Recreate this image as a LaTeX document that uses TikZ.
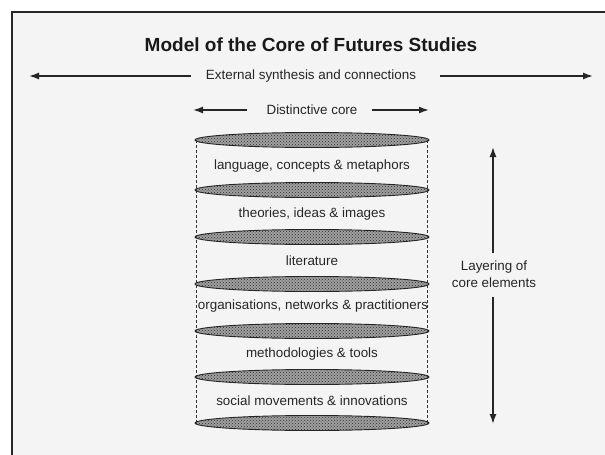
\documentclass[tikz,border=0pt]{standalone}
\usepackage{fontspec}
\setmainfont{Liberation Sans}
\usetikzlibrary{arrows.meta,patterns,shapes.geometric}
\begin{document}
\begin{tikzpicture}[x=1pt,y=-1pt,
  lbl/.style={inner sep=0pt, font=\fontsize{13.4}{17}\selectfont, text=black!85},
  disc/.style={ellipse, minimum width=234pt, minimum height=15pt, inner sep=0pt,
    draw=black!85, line width=0.9pt, preaction={fill=black!38},
    pattern=crosshatch dots, pattern color=black!80},
  arr/.style={line width=1.5pt, draw=black!85, -{Latex[length=10pt,width=7pt]}},
  side/.style={line width=0.8pt, draw=black!80, dash pattern=on 3pt off 2pt}]
\useasboundingbox (0,0) rectangle (605,455);
\fill[white] (0,0) rectangle (605,455);
\fill[gray!9] (12,12) rectangle (605,455);
\draw[line width=2pt, black!85] (12,455) -- (12,12) -- (605,12);

% title
\node[inner sep=0pt, font=\fontsize{19}{22}\selectfont\bfseries, text=black!90] (title) at (311,45) {Model of the Core of Futures Studies};

% external row
\node[lbl] (ext) at (311,76) {External synthesis and connections};
\coordinate (extL) at (29,76);
\coordinate (extR) at (593,76);
\draw[arr] ([xshift=-15pt]ext.west) -- (extL);
\draw[arr] ([xshift=24pt]ext.east) -- (extR);

% distinctive core row
\node[lbl] (dist) at (312,110) {Distinctive core};
\coordinate (distL) at (193,110);
\coordinate (distR) at (429,110);
\draw[arr] ([xshift=-19pt]dist.west) -- (distL);
\draw[arr] ([xshift=14pt]dist.east) -- (distR);

% cylinder discs
\node[disc] (d0) at (312,140) {};
\node[disc] (d1) at (312,190) {};
\node[disc] (d2) at (312,237) {};
\node[disc] (d3) at (312,284) {};
\node[disc] (d4) at (312,331) {};
\node[disc] (d5) at (312,377) {};
\node[disc] (d6) at (312,423) {};
\draw[side] ([xshift=2pt]d0.west) -- ([xshift=2pt]d6.west);
\draw[side] ([xshift=-2pt]d0.east) -- ([xshift=-2pt]d6.east);

% layer labels
\node[lbl] (l1) at (312,166) {language, concepts \& metaphors};
\node[lbl] (l2) at (312,214) {theories, ideas \& images};
\node[lbl] (l3) at (312,261) {literature};
\node[lbl] (l4) at (313,306) {organisations, networks \& practitioners};
\node[lbl] (l5) at (312,354) {methodologies \& tools};
\node[lbl] (l6) at (312,401) {social movements \& innovations};

% layering arrow
\node[lbl, align=center] (lay) at (494,274) {Layering of\\core elements};
\coordinate (layT) at (493,147);
\coordinate (layB) at (493,424);
\draw[arr] ([yshift=7pt]lay.north -| layT) -- (layT);
\draw[arr] ([yshift=-9pt]lay.south -| layB) -- (layB);
\end{tikzpicture}
\end{document}
